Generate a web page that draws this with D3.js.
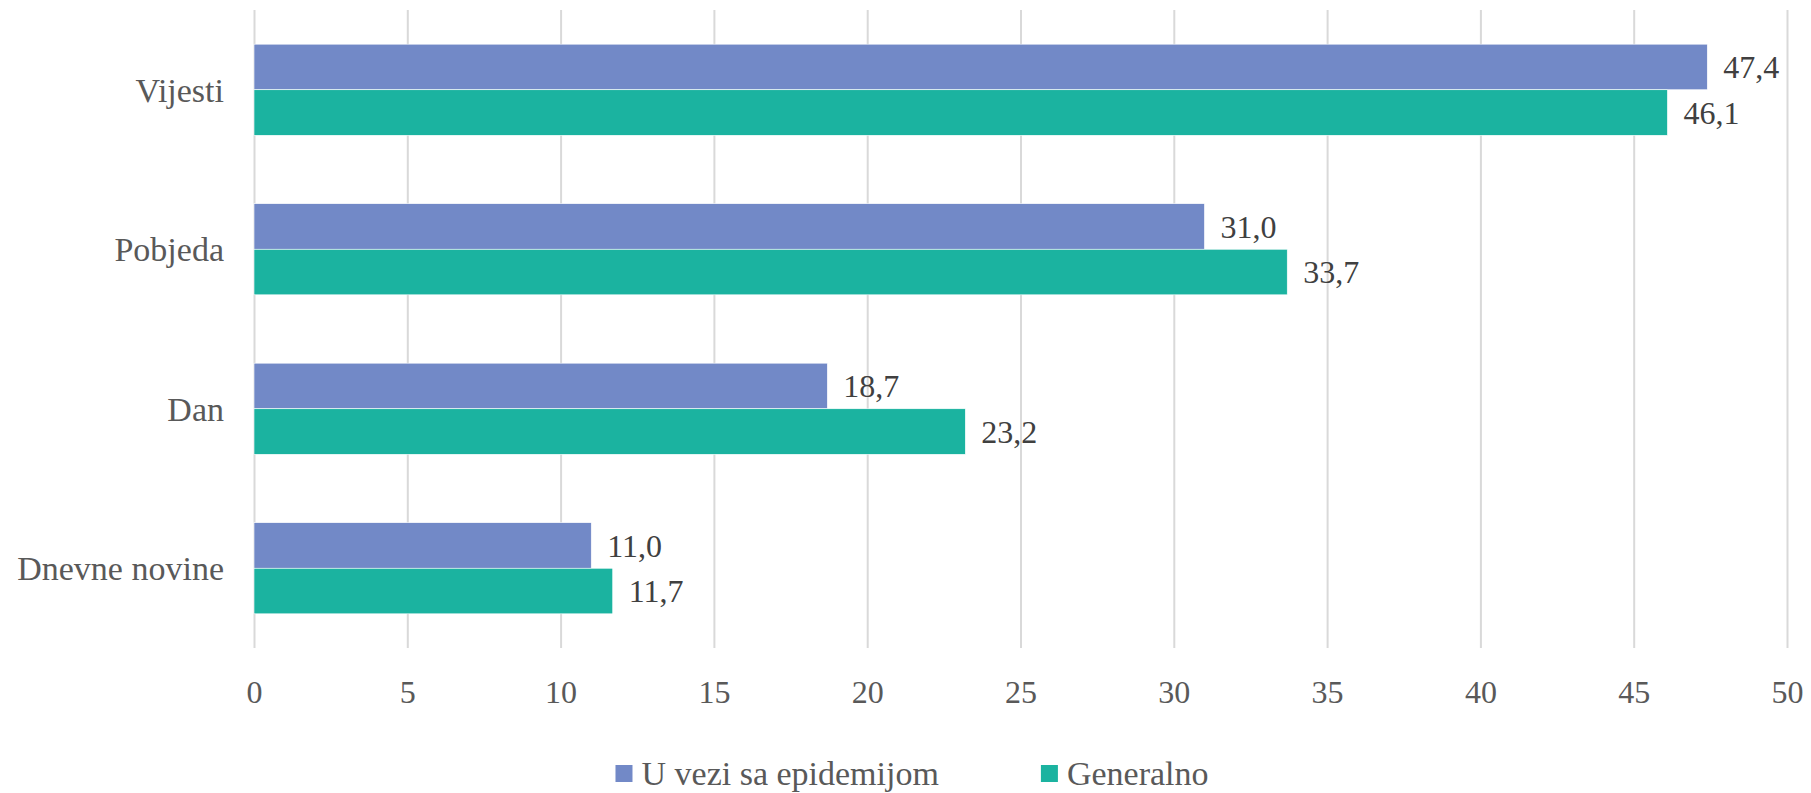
<!DOCTYPE html>
<html>
<head>
<meta charset="utf-8">
<script src="https://cdn.jsdelivr.net/npm/d3@7"></script>
<style>
  html, body { margin: 0; padding: 0; background: #fff; }
</style>
</head>
<body>
<svg id="chart" width="1811" height="793"></svg>
<script>
// Data
const categories = ["Vijesti", "Pobjeda", "Dan", "Dnevne novine"];
const seriesNames = ["U vezi sa epidemijom", "Generalno"];
const epidemijaValues = [47.4, 31.0, 18.7, 11.0];
const generalnoValues = [46.1, 33.7, 23.2, 11.7];
const xTicks = [0, 5, 10, 15, 20, 25, 30, 35, 40, 45, 50];

const colors = { "U vezi sa epidemijom": "#7289c7", "Generalno": "#1bb3a0" };
const FONT = "'Liberation Serif', 'Times New Roman', serif";

const svg = d3.select("#chart").style("font-family", FONT);
const margin = { top: 10, right: 24, bottom: 145, left: 254 };
const W = 1811, H = 793;
const plotH = H - margin.top - margin.bottom;

const x = d3.scaleLinear().domain([0, 50]).range([0, 1533]);
const y0 = d3.scaleBand().domain(categories).range([0, plotH]).padding(0);
const y1 = d3.scaleBand().domain(seriesNames).range([0, y0.bandwidth()])
    .paddingInner(0).paddingOuter(0.75);

const g = svg.append("g").attr("transform", `translate(${margin.left},${margin.top})`);

// Gridlines + tick labels
const xAxis = g.append("g")
    .attr("transform", `translate(0,${plotH})`)
    .call(d3.axisBottom(x).tickValues(xTicks).tickSizeInner(-plotH).tickSizeOuter(0).tickPadding(32)
        .tickFormat(d3.format("d")));
xAxis.attr("font-family", FONT).attr("font-size", 32);
xAxis.select(".domain").remove();
xAxis.selectAll(".tick line").attr("stroke", "#d9d9d9").attr("stroke-width", 2);
xAxis.selectAll(".tick text").attr("fill", "#595959");

// Category labels
g.selectAll(".cat-label")
    .data(categories)
    .enter()
    .append("text")
    .attr("class", "cat-label")
    .attr("x", -30)
    .attr("y", d => y0(d) + y0.bandwidth() / 2)
    .attr("dy", "0.35em")
    .attr("text-anchor", "end")
    .attr("fill", "#595959")
    .attr("font-size", 34)
    .text(d => d);

// Bars
const rows = categories.map((c, i) => ({
    category: c,
    values: [
        { series: seriesNames[0], value: epidemijaValues[i] },
        { series: seriesNames[1], value: generalnoValues[i] }
    ]
}));

const groups = g.selectAll(".group")
    .data(rows)
    .enter()
    .append("g")
    .attr("class", "group")
    .attr("transform", d => `translate(0,${y0(d.category)})`);

groups.selectAll("rect")
    .data(d => d.values)
    .enter()
    .append("rect")
    .attr("x", x(0))
    .attr("y", d => y1(d.series))
    .attr("width", d => x(d.value) - x(0))
    .attr("height", y1.bandwidth())
    .attr("fill", d => colors[d.series])
    .attr("stroke", "#ffffff")
    .attr("stroke-width", 0.6);

// Value labels
const fmt = v => v.toFixed(1).replace(".", ",");
groups.selectAll(".val")
    .data(d => d.values)
    .enter()
    .append("text")
    .attr("class", "val")
    .attr("x", d => x(d.value) + 16)
    .attr("y", d => y1(d.series) + y1.bandwidth() / 2)
    .attr("dy", "0.35em")
    .attr("fill", "#404040")
    .attr("font-size", 32)
    .text(d => fmt(d.value));

// Legend
const legend = svg.append("g");
let lx = 0;
seriesNames.forEach((name) => {
    const item = legend.append("g").attr("transform", `translate(${lx},0)`);
    item.append("rect")
        .attr("x", 0).attr("y", -8)
        .attr("width", 17).attr("height", 17)
        .attr("fill", colors[name]);
    const t = item.append("text")
        .attr("x", 26).attr("y", 0)
        .attr("dy", "0.35em")
        .attr("fill", "#595959")
        .attr("font-size", 34)
        .text(name);
    lx += 26 + t.node().getComputedTextLength() + 102;
});
const legendW = lx - 102;
legend.attr("transform", `translate(${912 - legendW / 2},773)`);
</script>
</body>
</html>
